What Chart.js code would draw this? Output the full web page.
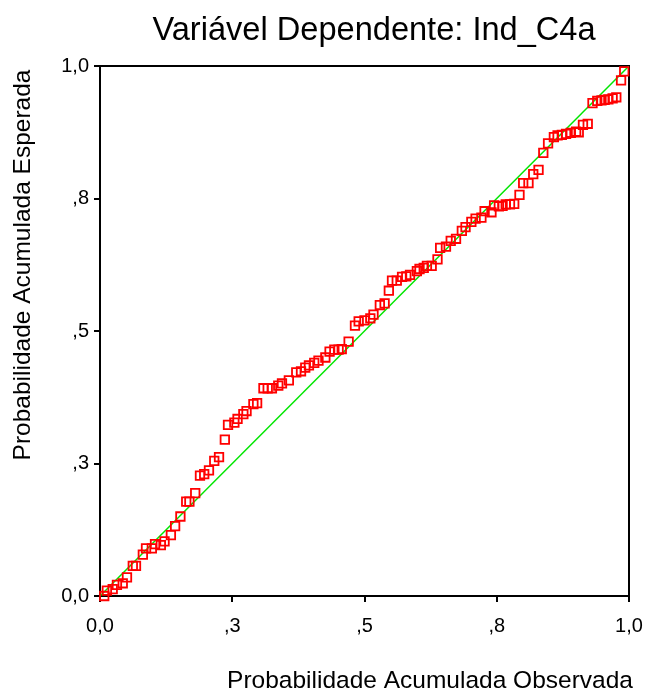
<!DOCTYPE html><html lang="pt"><head>
    <meta charset="UTF-8">
    <title>P-P Plot Ind_C4a</title>
    <script src="https://cdn.jsdelivr.net/npm/chart.js@4/dist/chart.umd.min.js"></script>
    <style>
      body { margin: 0; background: #fff; }
      #wrap { width: 645px; height: 693px; }
    </style>
  </head>
  <body>
    <div id="wrap"><canvas id="myChart"></canvas></div>

    <script>
      // valores (prob. acumulada observada x esperada)
      const observed = [
        0.008, 0.013, 0.024, 0.032, 0.043, 0.051, 0.062, 0.068, 0.081, 0.087,
        0.098, 0.104, 0.115, 0.122, 0.134, 0.142, 0.152, 0.163, 0.169, 0.180,
        0.189, 0.197, 0.206, 0.216, 0.225, 0.236, 0.242, 0.254, 0.260, 0.271,
        0.277, 0.290, 0.297, 0.309, 0.317, 0.325, 0.337, 0.344, 0.357, 0.371,
        0.380, 0.388, 0.395, 0.405, 0.413, 0.426, 0.434, 0.443, 0.451, 0.457,
        0.470, 0.482, 0.489, 0.500, 0.511, 0.517, 0.529, 0.538, 0.546, 0.552,
        0.561, 0.571, 0.579, 0.586, 0.599, 0.604, 0.612, 0.618, 0.627, 0.638,
        0.643, 0.654, 0.663, 0.673, 0.684, 0.691, 0.702, 0.710, 0.721, 0.727,
        0.740, 0.745, 0.754, 0.761, 0.767, 0.775, 0.783, 0.793, 0.800, 0.810,
        0.819, 0.829, 0.838, 0.847, 0.858, 0.865, 0.873, 0.881, 0.890, 0.900,
        0.905, 0.913, 0.922, 0.931, 0.940, 0.948, 0.954, 0.961, 0.969, 0.976,
        0.985, 0.991
      ];
      const expected = [
        0.000, 0.010, 0.013, 0.021, 0.024, 0.035, 0.057, 0.057, 0.078, 0.090,
        0.090, 0.098, 0.096, 0.103, 0.115, 0.132, 0.150, 0.178, 0.178, 0.194,
        0.227, 0.230, 0.237, 0.255, 0.262, 0.295, 0.323, 0.327, 0.334, 0.343,
        0.349, 0.362, 0.364, 0.392, 0.392, 0.392, 0.397, 0.401, 0.407, 0.422,
        0.424, 0.431, 0.435, 0.440, 0.444, 0.450, 0.461, 0.465, 0.465, 0.466,
        0.480, 0.510, 0.518, 0.520, 0.524, 0.531, 0.549, 0.552, 0.576, 0.595,
        0.595, 0.602, 0.603, 0.606, 0.613, 0.617, 0.619, 0.623, 0.623, 0.635,
        0.657, 0.659, 0.670, 0.674, 0.689, 0.696, 0.706, 0.712, 0.714, 0.726,
        0.724, 0.737, 0.735, 0.736, 0.739, 0.739, 0.740, 0.757, 0.779, 0.779,
        0.796, 0.804, 0.836, 0.854, 0.866, 0.869, 0.870, 0.872, 0.874, 0.876,
        0.875, 0.889, 0.891, 0.930, 0.934, 0.935, 0.936, 0.937, 0.939, 0.941,
        0.973, 0.990
      ];
      const tickValues = [0, 0.25, 0.5, 0.75, 1];
      const tickLabels = ['0,0', ',3', ',5', ',8', '1,0'];

      const FONT = 'Liberation Sans, Arial, sans-serif';

      const points = observed.map((x, i) => ({ x: x, y: expected[i] }));

      const textPlugin = {
        id: 'texts',
        beforeDatasetsDraw(chart) {
          const a = chart.chartArea;
          const ctx = chart.ctx;
          ctx.save();
          ctx.strokeStyle = '#000';
          ctx.lineWidth = 2;
          ctx.strokeRect(a.left, a.top, a.right - a.left, a.bottom - a.top);
          ctx.restore();
        },
        afterDraw(chart) {
          const ctx = chart.ctx;
          ctx.save();
          ctx.fillStyle = '#000';
          ctx.textAlign = 'center';
          ctx.textBaseline = 'middle';
          ctx.font = '32.6px ' + FONT;
          ctx.fillText('Variável Dependente: Ind_C4a', 374, 31);
          ctx.font = '24.5px ' + FONT;
          ctx.fillText('Probabilidade Acumulada Observada', 430, 681);
          ctx.translate(23, 265);
          ctx.rotate(-Math.PI / 2);
          ctx.fillText('Probabilidade Acumulada Esperada', 0, 0);
          ctx.restore();
        }
      };

      function axis(fitFn, pad) {
        return {
          type: 'linear',
          min: 0,
          max: 1,
          afterBuildTicks: s => { s.ticks = tickValues.map(v => ({ value: v })); },
          afterFit: fitFn,
          ticks: {
            callback: (v, i) => tickLabels[i],
            font: { family: FONT, size: 20 },
            color: '#000',
            padding: pad,
            maxRotation: 0,
            autoSkip: false
          },
          grid: {
            drawOnChartArea: false,
            drawTicks: true,
            tickLength: 6,
            color: '#000',
            lineWidth: 2
          },
          border: { display: false }
        };
      }

      const ctx = document.getElementById('myChart').getContext('2d');
      const myChart = new Chart(ctx, {
        type: 'scatter',
        data: {
          datasets: [
            {
              type: 'line',
              data: [{ x: 0, y: 0 }, { x: 1, y: 1 }],
              borderColor: 'rgb(0, 230, 0)',
              borderWidth: 1.5,
              pointRadius: 0,
              order: 2
            },
            {
              data: points,
              pointStyle: 'rect',
              pointRadius: 6,
              borderColor: 'rgb(255, 0, 0)',
              backgroundColor: 'rgba(0,0,0,0)',
              borderWidth: 1.8,
              clip: false,
              order: 1
            }
          ]
        },
        options: {
          responsive: true,
          maintainAspectRatio: false,
          animation: false,
          layout: { padding: { top: 66, right: 16, left: 0, bottom: 0 } },
          plugins: {
            legend: { display: false },
            tooltip: { enabled: false }
          },
          scales: {
            x: axis(s => { s.height = 97; s.paddingLeft = 0; s.paddingRight = 0; }, 12),
            y: axis(s => { s.width = 100; s.paddingTop = 0; s.paddingBottom = 0; }, 5)
          }
        },
        plugins: [textPlugin]
      });
    </script>
  
</body></html>
